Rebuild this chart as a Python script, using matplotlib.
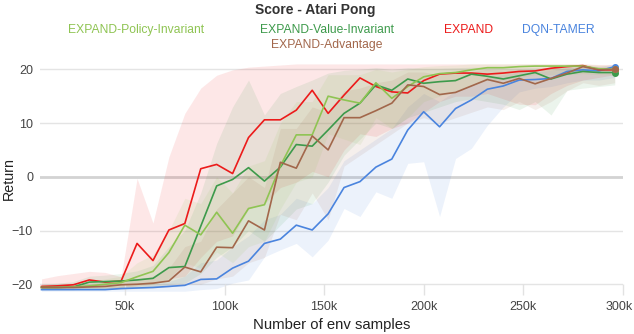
import numpy as np
import matplotlib
matplotlib.use("Agg")
import matplotlib.pyplot as plt
import matplotlib.transforms as mtransforms
from matplotlib.ticker import FuncFormatter

plt.rcParams["font.family"] = ["Liberation Sans", "DejaVu Sans"]

# env samples, every 8k
samples = np.arange(8000, 296001, 8000)

# --- mean curves ---
expand = [-20.4, -20.3, -20.1, -19.2, -19.6, -19.4, -12.4, -15.6, -9.9, -8.7,
          1.5, 2.3, 0.6, 7.3, 10.6, 10.6, 12.4, 16.1, 11.8, 15.2,
          18.4, 16.8, 15.8, 15.6, 17.9, 19.1, 19.3, 19.3, 19.1, 19.3,
          19.6, 19.7, 20.2, 20.5, 20.7, 19.9, 19.9]
value_inv = [-20.6, -20.6, -20.5, -19.6, -19.5, -19.4, -19.2, -18.9, -16.9, -16.7,
             -9.2, -1.7, -0.5, 1.7, -0.8, 1.8, 6.0, 5.7, 8.7, 11.8,
             13.7, 17.1, 16.1, 18.2, 17.4, 17.7, 17.9, 19.1, 18.7, 18.2,
             18.8, 19.4, 18.2, 19.1, 19.6, 19.4, 19.4]
policy_inv = [-20.6, -20.6, -20.5, -20.3, -20.0, -19.7, -18.6, -17.6, -14.1, -9.0,
              -10.8, -6.6, -10.5, -5.9, -5.2, 2.0, 7.8, 7.8, 15.0, 14.3,
              13.7, 17.5, 14.6, 16.8, 18.6, 19.2, 19.4, 19.9, 20.3, 20.3,
              20.5, 20.6, 20.6, 20.6, 20.6, 20.1, 20.0]
advantage = [-20.6, -20.6, -20.6, -20.5, -20.4, -20.1, -20.0, -19.8, -19.4, -16.8,
             -17.7, -13.1, -13.2, -8.2, -9.9, 2.7, 1.6, 7.6, 5.0, 11.0,
             11.0, 12.3, 13.7, 17.1, 16.8, 15.3, 15.7, 16.9, 18.1, 17.4,
             18.3, 17.3, 18.3, 19.3, 20.5, 19.9, 20.0]
dqn_tamer = [-21.0, -21.0, -21.0, -21.0, -21.0, -20.8, -20.7, -20.6, -20.4, -20.2,
             -19.1, -19.0, -17.0, -15.7, -12.4, -11.6, -9.0, -9.9, -6.9, -2.0,
             -0.9, 1.8, 3.3, 8.7, 12.1, 9.3, 12.7, 14.3, 16.3, 16.9,
             18.0, 18.1, 18.3, 19.6, 19.9, 19.7, 20.5]

# --- shaded bands (lower / upper) ---
expand_lo = [-20.8, -20.8, -20.7, -20.6, -20.6, -20.6, -20.3, -20.0, -19.0, -18.5,
             -15.0, -12.0, -11.0, -6.0, -5.0, -2.0, -1.0, 1.0, 0.0, 5.0,
             8.0, 7.5, 9.0, 10.0, 12.0, 14.0, 15.0, 15.0, 15.5, 14.5,
             13.5, 13.4, 15.5, 17.0, 18.0, 18.5, 19.0]
expand_hi = [-19.0, -18.4, -18.0, -17.6, -17.8, -18.6, -0.3, -8.6, 3.7, 11.8,
             16.5, 18.9, 19.9, 20.4, 20.6, 20.8, 21.0, 21.0, 21.0, 21.0,
             21.0, 21.0, 21.0, 21.0, 21.0, 21.0, 21.0, 21.0, 21.0, 21.0,
             21.0, 21.0, 21.0, 21.0, 21.0, 20.9, 20.9]
value_lo = [-21.0, -21.0, -21.0, -20.8, -20.8, -20.7, -20.6, -20.5, -20.0, -19.8,
            -18.0, -15.0, -13.0, -10.0, -12.0, -9.0, -6.0, -5.0, -1.0, 4.0,
            7.0, 10.0, 9.0, 11.0, 12.0, 13.0, 14.0, 14.5, 14.0, 13.5,
            12.5, 14.0, 11.5, 16.1, 16.5, 16.8, 17.1]
value_hi = [-20.0, -19.8, -19.5, -18.5, -18.3, -18.0, -17.5, -16.5, -13.0, -10.0,
            -3.0, 6.2, 13.0, 18.0, 11.5, 15.5, 16.8, 18.0, 19.3, 19.8,
            20.0, 20.3, 20.0, 20.3, 20.2, 20.2, 20.3, 20.4, 20.4, 20.3,
            20.3, 20.4, 20.3, 20.4, 20.5, 20.3, 20.2]
policy_lo = [-21.0, -21.0, -21.0, -20.9, -20.8, -20.6, -20.3, -20.0, -19.0, -16.0,
             -17.0, -14.0, -16.0, -13.0, -12.0, -6.0, -1.0, 0.0, 8.0, 7.0,
             6.0, 11.0, 9.0, 11.0, 14.0, 15.0, 16.0, 17.0, 18.0, 18.0,
             18.5, 19.0, 19.0, 19.0, 19.2, 19.0, 19.0]
policy_hi = [-20.0, -20.0, -19.8, -19.5, -19.0, -18.5, -16.0, -14.5, -10.0, -4.0,
             -5.0, 0.0, -3.0, 2.0, 3.0, 10.0, 14.0, 14.0, 19.0, 19.0,
             19.0, 20.0, 19.5, 20.0, 20.5, 20.7, 20.8, 21.0, 21.0, 21.0,
             21.0, 21.0, 21.0, 21.0, 21.0, 20.8, 20.7]
adv_lo = [-21.0, -21.0, -21.0, -21.0, -21.0, -20.9, -20.8, -20.7, -20.5, -20.0,
          -20.0, -19.0, -18.5, -16.0, -15.0, -7.0, -8.0, -3.0, -8.0, 2.0,
          4.0, 6.0, 8.0, 10.0, 11.0, 10.0, 11.0, 12.0, 13.0, 12.5,
          14.0, 12.5, 14.0, 16.0, 17.5, 17.0, 17.5]
adv_hi = [-20.2, -20.2, -20.0, -19.8, -19.6, -19.2, -19.0, -18.5, -17.0, -13.0,
          -12.0, -6.0, -3.0, 0.0, -2.0, 9.0, 9.0, 13.0, 12.0, 16.0,
          16.5, 17.5, 18.0, 19.5, 19.5, 19.0, 19.3, 19.6, 20.0, 19.8,
          20.0, 19.8, 20.2, 20.5, 20.8, 20.6, 20.5]
dqn_lo = [-21.3, -21.3, -21.3, -21.3, -21.3, -21.3, -21.3, -21.3, -21.3, -21.3,
          -21.0, -20.8, -19.8, -19.2, -14.9, -13.6, -12.4, -14.9, -11.8, -5.9,
          -7.4, -2.8, -4.0, 2.5, 2.8, -7.4, 3.4, 5.3, 9.6, 13.0,
          15.8, 16.5, 16.8, 17.5, 18.0, 18.0, 18.5]
dqn_hi = [-20.6, -20.6, -20.6, -20.6, -20.5, -20.4, -20.3, -20.0, -19.5, -18.5,
          -16.0, -15.5, -13.0, -11.0, -8.0, -7.0, -4.0, -5.0, -2.0, 3.0,
          5.0, 7.0, 9.0, 13.0, 15.5, 14.0, 16.0, 17.0, 18.5, 19.0,
          19.5, 19.5, 19.8, 20.3, 20.5, 20.5, 21.0]

series = [
    ("DQN-TAMER", dqn_tamer, dqn_lo, dqn_hi, "#4a84de"),
    ("EXPAND", expand, expand_lo, expand_hi, "#ec1b1b"),
    ("EXPAND-Value-Invariant", value_inv, value_lo, value_hi, "#3d9a4b"),
    ("EXPAND-Policy-Invariant", policy_inv, policy_lo, policy_hi, "#8fc453"),
    ("EXPAND-Advantage", advantage, adv_lo, adv_hi, "#a2674b"),
]

fig = plt.figure(figsize=(6.34, 3.34), dpi=100)
ax = fig.add_axes([40 / 634, 1 - 295 / 334, (622.7 - 40) / 634, (295 - 62) / 334])

for nom, moy, bas, haut, col in series:
    ax.fill_between(samples, bas, haut, color=col, alpha=0.1, linewidth=0, zorder=1)

for nom, moy, bas, haut, col in series:
    ax.plot(samples, moy, color=col, linewidth=1.2, zorder=3,
            marker="o", markersize=4, markevery=[len(moy) - 1])

# grid
for yv in [-20, -10, 10, 20]:
    ax.axhline(yv, color="#e4e4e4", linewidth=1, zorder=0)
ax.axhline(0, color="#d3d3d3", linewidth=2, zorder=0)

ax.set_xlim(7240, 300000)
ax.set_ylim(-22, 21.36)
ax.set_yticks([-20, -10, 0, 10, 20])
ax.set_xticks([50000, 100000, 150000, 200000, 250000, 300000])
ax.xaxis.set_major_formatter(FuncFormatter(lambda v, p: f"{int(v / 1000)}k"))
ax.tick_params(axis="x", direction="in", length=8, width=1, color="#e2e2e2",
               labelsize=9, labelcolor="#444444", pad=4)
ax.tick_params(axis="y", length=0, labelsize=9, labelcolor="#444444", pad=5)
for s in ax.spines.values():
    s.set_visible(False)

# keep the last x label inside the canvas
dernier = ax.get_xticklabels()[-1]
dernier.set_transform(dernier.get_transform() +
                      mtransforms.ScaledTranslation(-4 / 100, 0, fig.dpi_scale_trans))

ax.set_xlabel("Number of env samples", fontsize=10.7, color="#222222", labelpad=4)
ax.set_ylabel("Return", fontsize=10.3, color="#222222", va="center")
ax.yaxis.set_label_coords((9 - 40) / 582.7, 0.5)

fig.text(315.5 / 634, 1 - 10 / 334, "Score - Atari Pong", ha="center", va="center",
         fontsize=10, fontweight="bold", color="#333333")
legende = [
    ("EXPAND-Policy-Invariant", 136, 30, "#8fc453"),
    ("EXPAND-Value-Invariant", 327, 30, "#3d9a4b"),
    ("EXPAND", 469, 30, "#ec1b1b"),
    ("DQN-TAMER", 558, 30, "#4a84de"),
    ("EXPAND-Advantage", 327, 45, "#a2674b"),
]
for txt, px, py, col in legende:
    fig.text(px / 634, 1 - py / 334, txt, ha="center", va="center",
             fontsize=8.7, color=col)

fig.savefig("out.png", dpi=100)
